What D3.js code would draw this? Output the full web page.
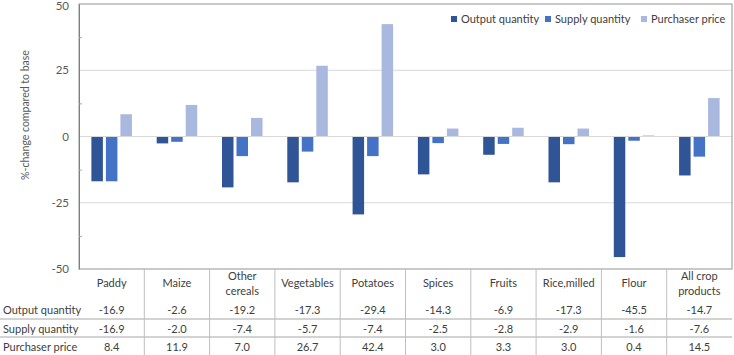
<!DOCTYPE html>
<html><head><meta charset="utf-8">
<script src="https://cdn.jsdelivr.net/npm/d3@7"></script>
<style>body{margin:0;background:#fff}svg{display:block;font-family:Lato,"Liberation Sans",Arial,sans-serif}</style>
</head><body><svg id="c" width="734" height="355"></svg>
<script>
const categories = ["Paddy","Maize","Other cereals","Vegetables","Potatoes","Spices","Fruits","Rice,milled","Flour","All crop products"];
const categoryLines = [["Paddy"],["Maize"],["Other","cereals"],["Vegetables"],["Potatoes"],["Spices"],["Fruits"],["Rice,milled"],["Flour"],["All crop","products"]];
const seriesNames = ["Output quantity","Supply quantity","Purchaser price"];
const outputQuantity = [-16.9,-2.6,-19.2,-17.3,-29.4,-14.3,-6.9,-17.3,-45.5,-14.7];
const supplyQuantity = [-16.9,-2.0,-7.4,-5.7,-7.4,-2.5,-2.8,-2.9,-1.6,-7.6];
const purchaserPrice = [8.4,11.9,7.0,26.7,42.4,3.0,3.3,3.0,0.4,14.5];
const yTicks = [-50,-25,0,25,50];
const yMinorTicks = [-37.5,-12.5,12.5,37.5];
const colors = ["#2F5597","#4472C4","#A9B8DF"];
const seriesValues = [outputQuantity, supplyQuantity, purchaserPrice];

const FONT = "Lato, 'Liberation Sans', Arial, sans-serif";
const fmt = v => d3.format(".1f")(v).replace("\u2212", "-");
const svg = d3.select("#c");
const L = 79, R = 732, T = 4, B = 269;
const x = d3.scaleBand().domain(categories).range([L, R]).padding(0);
const xs = d3.scaleBand().domain(seriesNames).range([0, x.bandwidth()]).paddingInner(0.207).paddingOuter(0.854);
const y = d3.scaleLinear().domain([-50, 50]).range([B, T]);

// gridlines
svg.append("g").selectAll("line").data(yTicks.filter(t => t !== 0 && Math.abs(t) !== 50)).join("line")
  .attr("x1", L).attr("x2", R).attr("y1", d => y(d)).attr("y2", d => y(d))
  .attr("stroke", "#d9d9d9").attr("stroke-width", 1);

// bars
const g = svg.append("g");
categories.forEach((c, i) => {
  seriesNames.forEach((s, j) => {
    const v = seriesValues[j][i];
    g.append("rect")
      .attr("x", x(c) + xs(s))
      .attr("width", xs.bandwidth())
      .attr("y", y(Math.max(0, v)))
      .attr("height", Math.abs(y(v) - y(0)))
      .attr("fill", colors[j]);
  });
});

// zero line
svg.append("line").attr("x1", L).attr("x2", R).attr("y1", y(0)).attr("y2", y(0))
  .attr("stroke", "#d9d9d9").attr("stroke-width", 1);

// plot border
svg.append("rect").attr("x", L).attr("y", T).attr("width", R - L).attr("height", B - T)
  .attr("fill", "none").attr("stroke", "#a6a6a6").attr("stroke-width", 1.2);

// y axis
const yAxis = d3.axisLeft(y).tickValues(yTicks).tickSize(0).tickPadding(10).tickFormat(d => fmt(d).replace(".0", ""));
const ya = svg.append("g").attr("transform", `translate(${L},0)`).call(yAxis);
ya.select(".domain").attr("stroke", "#7f7f7f");
ya.selectAll("text").attr("fill", "#595959").attr("font-size", 11.5).attr("font-family", FONT)
  .attr("dy", d => d === 50 ? "0.5em" : "0.32em");
const yMinor = d3.axisRight(y).tickValues(yMinorTicks).tickSize(3).tickFormat("");
const ym = svg.append("g").attr("transform", `translate(${L},0)`).call(yMinor);
ym.select(".domain").remove();
ym.selectAll("line").attr("stroke", "#a6a6a6");

svg.append("text").attr("transform", `translate(29,115) rotate(-90)`)
  .attr("text-anchor", "middle").attr("font-size", 10.5).attr("fill", "#595959")
  .text("%-change compared to base");

// legend
const legendX = [451, 545, 641];
const lg = svg.append("g");
seriesNames.forEach((s, j) => {
  lg.append("rect").attr("x", legendX[j]).attr("y", 16).attr("width", 6).attr("height", 6).attr("fill", colors[j]);
  lg.append("text").attr("x", legendX[j] + 10).attr("y", 23).attr("font-size", 11).attr("fill", "#404040").text(s);
});

// data table
const tb = svg.append("g");
const rowY = [310, 329, 347];
const lineY = [319, 337];
lineY.forEach(ly => tb.append("line").attr("x1", 0).attr("x2", R).attr("y1", ly).attr("y2", ly).attr("stroke", "#a6a6a6"));
categories.slice(1).forEach(c => {
  tb.append("line").attr("x1", x(c)).attr("x2", x(c)).attr("y1", B).attr("y2", 355).attr("stroke", "#bfbfbf");
});
categories.forEach((c, i) => {
  const lines = categoryLines[i];
  const cx = x(c) + x.bandwidth() / 2;
  lines.forEach((t, k) => {
    const yy = lines.length === 1 ? 287 : 280 + k * 15;
    tb.append("text").attr("x", cx).attr("y", yy).attr("text-anchor", "middle").attr("font-size", 11).attr("fill", "#404040").text(t);
  });
  seriesValues.forEach((vals, j) => {
    tb.append("text").attr("x", cx).attr("y", rowY[j] + 4).attr("text-anchor", "middle").attr("font-size", 11).attr("fill", "#404040").text(fmt(vals[i]));
  });
});
seriesNames.forEach((s, j) => {
  tb.append("text").attr("x", 3).attr("y", rowY[j] + 4).attr("font-size", 11).attr("fill", "#404040").text(s);
});
</script></body></html>
